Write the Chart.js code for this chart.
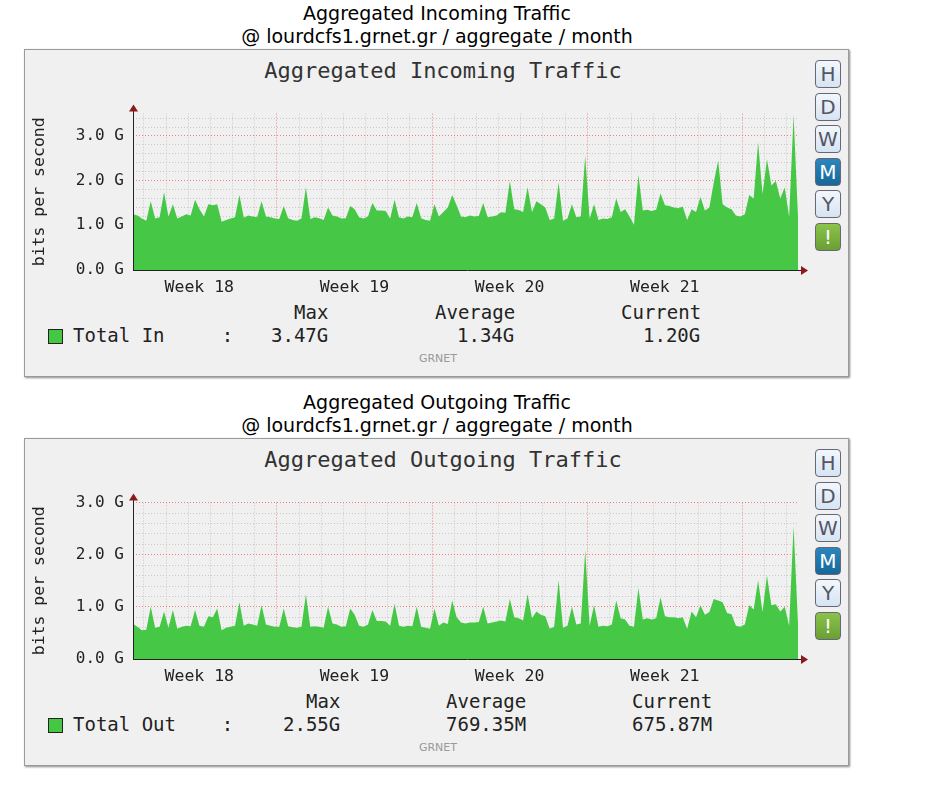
<!DOCTYPE html>
<html><head><meta charset="utf-8">
<script src="https://cdn.jsdelivr.net/npm/chart.js@4.4.1/dist/chart.umd.min.js"></script>
<style>
body{margin:0;background:#fff;width:936px;height:802px;position:relative;font-family:"DejaVu Sans",sans-serif;overflow:hidden}
.ttl{position:absolute;left:0;width:874px;text-align:center;font-size:19px;color:#000}
.panel{position:absolute;left:24px;width:823px;height:326px;background:#f0f0f0;border:1px solid #9a9a9a;box-shadow:1px 1px 2px #888}
.ptitle{position:absolute;left:0;width:836px;top:8px;text-align:center;font:22px "DejaVu Sans Mono",monospace;color:#333}
.mono{position:absolute;font:19px "DejaVu Sans Mono",monospace;color:#222;white-space:pre}
.sq{position:absolute;left:23px;width:13px;height:13px;background:#44c844;border:1px solid #222}
.grnet{position:absolute;left:0;width:826px;text-align:center;font:11px "DejaVu Sans",sans-serif;color:#999}
.btn{position:absolute;left:790px;width:24px;height:26px;border:1px solid #667;border-radius:4px;background:linear-gradient(#f2f7fc,#d6e4f2);color:#556;font:20px "DejaVu Sans",sans-serif;text-align:center;line-height:26px}
.btn.m{background:linear-gradient(#2b86bd,#16689a);color:#fff}
.btn.g{background:linear-gradient(#8bc34a,#6a9f35);color:#fff}
canvas{position:absolute}
</style></head><body>
<div class="ttl" style="top:2px">Aggregated Incoming Traffic</div>
<div class="ttl" style="top:25px">@ lourdcfs1.grnet.gr / aggregate / month</div>
<div class="ttl" style="top:391px">Aggregated Outgoing Traffic</div>
<div class="ttl" style="top:414px">@ lourdcfs1.grnet.gr / aggregate / month</div>
<div id="p1" class="panel" style="top:49px"></div>
<div id="p2" class="panel" style="top:438px"></div>
<canvas id="c1" width="780" height="200" style="left:30px;top:95px;width:780px;height:200px"></canvas>
<canvas id="c2" width="780" height="200" style="left:30px;top:484px;width:780px;height:200px"></canvas>
<script>
const weekLabels=["Week 18","Week 19","Week 20","Week 21"];
const stepDays=0.2;
const incoming=[1.25,1.22,1.15,1.10,1.54,1.15,1.18,1.74,1.20,1.47,
1.15,1.20,1.25,1.22,1.57,1.36,1.20,1.47,1.45,1.47,
1.08,1.12,1.15,1.18,1.68,1.17,1.22,1.20,1.18,1.54,
1.20,1.18,1.15,1.14,1.43,1.16,1.12,1.10,1.15,1.85,
1.14,1.18,1.16,1.12,1.40,1.22,1.20,1.15,1.16,1.43,
1.36,1.18,1.15,1.20,1.50,1.33,1.33,1.32,1.15,1.57,
1.18,1.15,1.20,1.18,1.50,1.16,1.12,1.10,1.47,1.20,
1.30,1.40,1.68,1.45,1.20,1.18,1.22,1.20,1.21,1.50,
1.18,1.20,1.22,1.29,1.28,1.99,1.36,1.34,1.30,1.85,
1.30,1.54,1.47,1.40,1.12,1.15,1.96,1.10,1.15,1.47,
1.18,1.20,2.55,1.15,1.47,1.12,1.15,1.14,1.18,1.60,
1.30,1.36,1.20,1.01,2.13,1.33,1.35,1.32,1.35,1.71,
1.45,1.43,1.40,1.38,1.42,1.12,1.36,1.30,1.64,1.33,
1.40,1.96,2.45,1.47,1.40,1.36,1.22,1.20,1.25,1.68,
1.60,2.86,1.70,2.48,1.89,1.99,1.60,1.85,1.19,3.47,1.20];
const outgoing=[0.67,0.62,0.55,0.56,1.00,0.60,0.62,0.91,0.60,0.94,
0.58,0.62,0.64,0.63,0.94,0.64,0.62,0.82,0.80,0.97,
0.55,0.60,0.62,0.64,1.09,0.64,0.68,0.66,0.64,1.03,
0.66,0.64,0.62,0.62,0.97,0.63,0.61,0.60,0.62,1.24,
0.62,0.63,0.62,0.60,1.00,0.68,0.66,0.62,0.63,0.97,
0.85,0.64,0.62,0.66,0.94,0.73,0.73,0.72,0.64,1.06,
0.64,0.62,0.64,0.63,1.00,0.62,0.60,0.58,0.97,0.64,
0.70,0.67,1.12,0.80,0.70,0.68,0.70,0.70,0.71,1.00,
0.68,0.70,0.72,0.74,0.72,1.15,0.80,0.78,0.74,1.24,
0.78,0.91,0.85,0.82,0.58,0.62,1.51,0.60,0.64,1.00,
0.66,0.68,2.08,0.64,1.03,0.62,0.64,0.63,0.66,1.12,
0.78,0.76,0.64,0.62,1.36,0.76,0.78,0.76,0.78,1.18,
0.82,0.80,0.80,0.78,0.80,0.58,0.91,0.80,1.03,0.85,
0.90,1.15,1.12,1.09,0.88,0.86,0.64,0.62,0.66,1.03,
0.95,1.51,0.90,1.60,1.03,1.05,0.91,1.00,0.64,2.55,0.68];
const legend1={name:"Total In     :",max:"3.47G",avg:"1.34G",cur:"1.20G"};
const legend2={name:"Total Out    :",max:"2.55G",avg:"769.35M",cur:"675.87M"};
const weekStart=6.49, dayCount=30, firstDay=0.49;

function panelHtml(id,title,lg,cols){
  const p=document.getElementById(id);
  let h='<div class="ptitle">'+title+'</div>';
  ['H','D','W','M','Y','!'].forEach((b,i)=>{h+='<div class="btn'+(b==='M'?' m':b==='!'?' g':'')+'" style="top:'+(10+i*32.5)+'px">'+b+'</div>';});
  h+='<div class="sq" style="top:279px"></div>';
  h+='<div class="mono" style="left:48px;top:274px">'+lg.name+'</div>';
  h+='<div class="mono" style="left:'+cols[0]+'px;top:251px">Max</div>';
  h+='<div class="mono" style="left:'+cols[1]+'px;top:251px">Average</div>';
  h+='<div class="mono" style="left:'+cols[2]+'px;top:251px">Current</div>';
  h+='<div class="mono" style="left:'+cols[3]+'px;top:274px">'+lg.max+'</div>';
  h+='<div class="mono" style="left:'+cols[4]+'px;top:274px">'+lg.avg+'</div>';
  h+='<div class="mono" style="left:'+cols[5]+'px;top:274px">'+lg.cur+'</div>';
  h+='<div class="grnet" style="top:302px">GRNET</div>';
  p.innerHTML=h;
}
panelHtml('p1','Aggregated Incoming Traffic',legend1,[269,410,596,246,432,618]);
panelHtml('p2','Aggregated Outgoing Traffic',legend2,[281,421,607,258,421,607]);

const arrows={id:'arrows',afterDraw(c){
  const a=c.chartArea,x=c.ctx;x.save();x.strokeStyle='#222';x.fillStyle='#8b1a1a';x.lineWidth=1;
  x.beginPath();x.moveTo(a.left+0.5,a.bottom);x.lineTo(a.left+0.5,a.top-3);x.moveTo(a.left,a.bottom+0.5);x.lineTo(a.right+4,a.bottom+0.5);x.stroke();
  x.beginPath();x.moveTo(a.left-4,a.top-2);x.lineTo(a.left+5,a.top-2);x.lineTo(a.left+0.5,a.top-9);x.fill();
  x.beginPath();x.moveTo(a.right+3,a.bottom-4);x.lineTo(a.right+3,a.bottom+5);x.lineTo(a.right+10,a.bottom+0.5);x.fill();
  x.restore();}};

function make(id,vals,ymax){
  const mono='"DejaVu Sans Mono", monospace';
  new Chart(document.getElementById(id),{type:'line',
    data:{datasets:[{data:vals.map((v,i)=>({x:i*stepDays,y:v})),fill:'origin',backgroundColor:'#46c846',borderWidth:0,pointRadius:0,tension:0}]},
    options:{responsive:false,animation:false,
      layout:{padding:{top:5,right:12,left:0,bottom:0}},
      plugins:{legend:{display:false},tooltip:{enabled:false}},
      scales:{
        x:{type:'linear',min:0,max:dayCount,
          afterBuildTicks:s=>{const t=[];for(let k=0;k<dayCount;k++)t.push({value:firstDay+k});s.ticks=t;},
          afterFit:s=>{s.height=0;},
          ticks:{display:false},border:{display:false,dash:[1,2]},
          grid:{drawTicks:false,color:ctx=>{const v=ctx.tick?ctx.tick.value:0;return (Math.round(v-weekStart)%7===0 && v>=weekStart-0.01)?'#f08080':'#c8c8c8';}}},
        x2:{type:'linear',position:'bottom',min:0,max:dayCount,
          afterBuildTicks:s=>{s.ticks=weekLabels.map((w,i)=>({value:weekStart-3.5+7*i}));},
          afterFit:s=>{s.height=25;},
          grid:{display:false},border:{display:false},
          ticks:{autoSkip:false,maxRotation:0,padding:0,color:'#222',font:{family:mono,size:16.5},callback:(v,i)=>weekLabels[i]}},
        y:{min:0,max:ymax,
          afterBuildTicks:s=>{const t=[];for(let k=0;k*0.2<=ymax+1e-6;k++)t.push({value:Math.round(k*2)/10});s.ticks=t;},
          afterFit:s=>{s.width=103;},
          border:{display:false,dash:[1,2]},
          grid:{drawTicks:false,color:ctx=>{const v=ctx.tick?ctx.tick.value:0;return Math.abs(v-Math.round(v))<1e-6?'#f08080':'#c8c8c8';}},
          ticks:{autoSkip:false,padding:9,color:'#222',font:{family:mono,size:16},callback:v=>Math.abs(v-Math.round(v))<1e-6?v.toFixed(1)+' G':''},
          title:{display:true,text:'bits per second',color:'#222',font:{family:mono,size:16.5},padding:{top:0,bottom:10}}}}},
    plugins:[arrows]});
}
make('c1',incoming,3.5);
make('c2',outgoing,3.0);
</script></body></html>
